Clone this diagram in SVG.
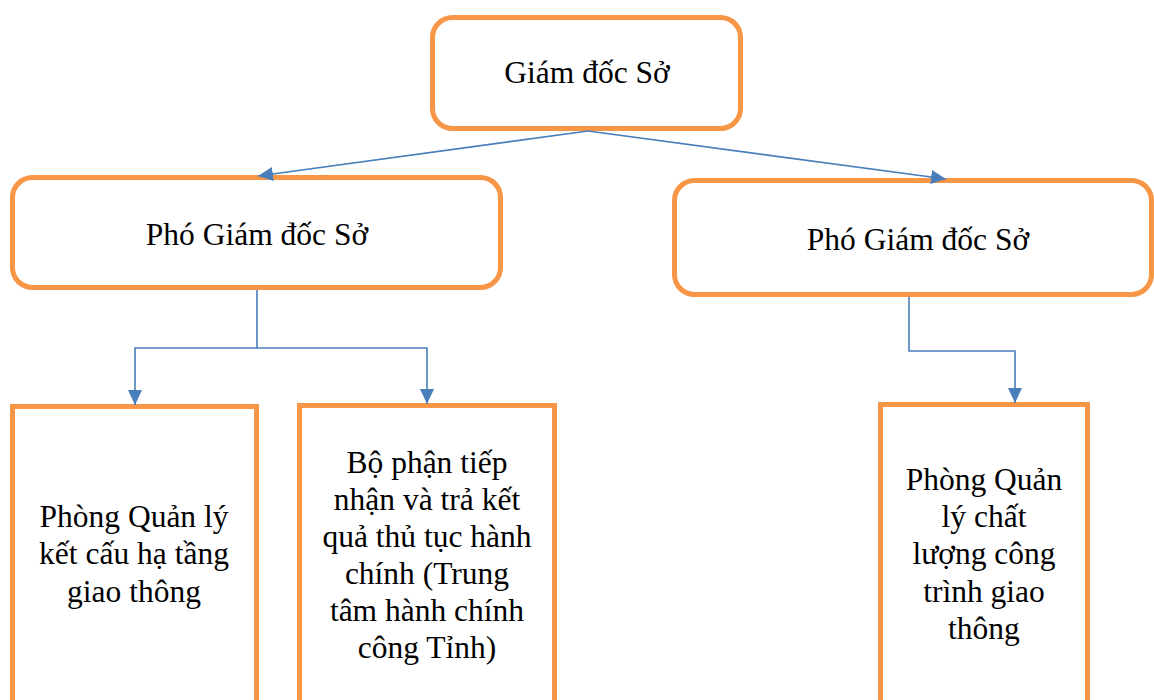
<svg xmlns="http://www.w3.org/2000/svg" width="1154" height="700" viewBox="0 0 1154 700">
<style>
.box{fill:#fff;stroke:#F79646;stroke-width:5}
.t{font-family:"Liberation Serif","Times New Roman",serif;font-size:31.5px;fill:#000;text-anchor:middle}
.c{fill:none;stroke:#4A7EBB;stroke-width:1.6}
</style>
<defs>
<marker id="ah" markerUnits="userSpaceOnUse" markerWidth="16" markerHeight="16" refX="15" refY="7" orient="auto">
<path d="M0,0 L15,7 L0,14 Z" fill="#4A7EBB"/>
</marker>
</defs>
<rect width="1154" height="700" fill="#fff"/>
<g id="n-giamdoc">
<rect class="box" x="432.5" y="17.5" width="308" height="111" rx="20"/>
<text class="t" x="587" y="83">Giám đốc Sở</text>
</g>
<g id="n-pho1">
<rect class="box" x="12.5" y="177.5" width="488" height="110" rx="20"/>
<text class="t" x="257" y="245">Phó Giám đốc Sở</text>
</g>
<g id="n-pho2">
<rect class="box" x="674.5" y="180.5" width="477" height="114" rx="20"/>
<text class="t" x="918" y="250">Phó Giám đốc Sở</text>
</g>
<g id="n-kch">
<rect class="box" x="12.5" y="406.5" width="244" height="320"/>
<text class="t" x="134"><tspan x="134" y="527">Phòng Quản lý</tspan><tspan x="134" y="564">kết cấu hạ tầng</tspan><tspan x="134" y="602">giao thông</tspan></text>
</g>
<g id="n-bophan">
<rect class="box" x="299.5" y="405.5" width="255" height="320"/>
<text class="t" x="427"><tspan x="427" y="473">Bộ phận tiếp</tspan><tspan x="427" y="510">nhận và trả kết</tspan><tspan x="427" y="547">quả thủ tục hành</tspan><tspan x="427" y="584">chính (Trung</tspan><tspan x="427" y="621">tâm hành chính</tspan><tspan x="427" y="658">công Tỉnh)</tspan></text>
</g>
<g id="n-clct">
<rect class="box" x="880.5" y="404.5" width="207" height="320"/>
<text class="t" x="984"><tspan x="984" y="490">Phòng Quản</tspan><tspan x="984" y="527">lý chất</tspan><tspan x="984" y="564">lượng công</tspan><tspan x="984" y="602">trình giao</tspan><tspan x="984" y="639">thông</tspan></text>
</g>
<g id="connectors">
<line class="c" x1="588" y1="131" x2="258" y2="176" marker-end="url(#ah)"/>
<line class="c" x1="588" y1="131" x2="946" y2="179" marker-end="url(#ah)"/>
<polyline class="c" points="257,290 257,348 135,348 135,405" marker-end="url(#ah)"/>
<polyline class="c" points="257,348 427,348 427,404" marker-end="url(#ah)"/>
<polyline class="c" points="909,297 909,351 1015,351 1015,403" marker-end="url(#ah)"/>
</g>
</svg>
